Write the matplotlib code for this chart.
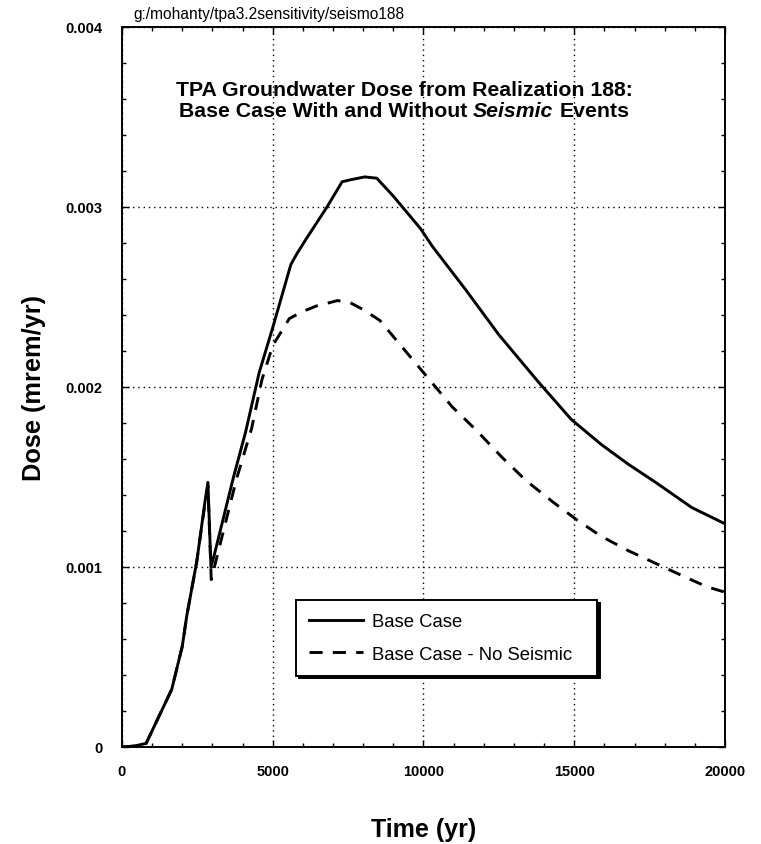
import matplotlib
matplotlib.use("Agg")
import matplotlib.pyplot as plt
from matplotlib.ticker import MultipleLocator, FixedLocator, FixedFormatter

plt.rcParams['font.family'] = ['Liberation Sans', 'DejaVu Sans']

# ---- data ----
base_t = [0, 400, 800, 1650, 2000, 2150, 2480, 2750, 2850, 2950, 3050, 3700, 4100,
          4550, 5000, 5600, 5800, 6100, 6800, 7300, 7550, 8050, 8450, 9000, 9300,
          9900, 10300, 11400, 12500, 13800, 14900, 15900, 16800, 17700, 18900, 20000]
base_d = [0, 0.000005, 0.00002, 0.00032, 0.00056, 0.00073, 0.00103, 0.00136, 0.00147,
          0.00100, 0.00106, 0.00150, 0.00175, 0.00208, 0.00233, 0.00268, 0.00274,
          0.00282, 0.00300, 0.00314, 0.00315, 0.003167, 0.00316, 0.00306, 0.00300,
          0.00288, 0.00278, 0.00254, 0.00229, 0.00203, 0.00182, 0.00168, 0.00157,
          0.00147, 0.00133, 0.00124]

noseis_t = [0, 400, 800, 1650, 2000, 2150, 2480, 2750, 2850, 2960, 3350, 3800, 4300,
            4640, 5000, 5550, 6000, 6450, 7150, 7550, 8000, 8550, 9200, 9550, 9950,
            10950, 11750, 12600, 13400, 14300, 15100, 15900, 16800, 17700, 18600,
            19400, 20000]
noseis_d = [0, 0.000005, 0.00002, 0.00032, 0.00056, 0.00073, 0.00103, 0.00135, 0.00145,
            0.00093, 0.00119, 0.00149, 0.00177, 0.00204, 0.00223, 0.00238, 0.00242,
            0.00245, 0.00248, 0.00247, 0.00243, 0.00237, 0.00224, 0.00217, 0.00209,
            0.00189, 0.00176, 0.00161, 0.00148, 0.00136, 0.00126, 0.00117, 0.00109,
            0.00102, 0.00095, 0.00089, 0.00086]

x_ticks = [0, 5000, 10000, 15000, 20000]
x_labels = ['0', '5000', '10000', '15000', '20000']
y_ticks = [0, 0.001, 0.002, 0.003, 0.004]
y_labels = ['0', '0.001', '0.002', '0.003', '0.004']

series_labels = ['Base Case', 'Base Case - No Seismic']
title_line1 = 'TPA Groundwater Dose from Realization 188:'
title_line2 = [('Base Case With and Without', 'normal'), ('Seismic', 'italic'), ('Events', 'normal')]
source_text = 'g:/mohanty/tpa3.2sensitivity/seismo188'

# ---- figure ----
fig = plt.figure(figsize=(7.61, 8.45), dpi=100)
ax = fig.add_axes([0.1603, 0.1148, 0.7924, 0.8521])

ax.plot(base_t, base_d, color='black', lw=2.1, label=series_labels[0])
ax.plot(noseis_t, noseis_d, color='black', lw=2.1, linestyle=(0, (4.5, 3.5)),
        label=series_labels[1])

ax.set_xlim(0, 20000)
ax.set_ylim(0, 0.004)
ax.xaxis.set_major_locator(FixedLocator(x_ticks))
ax.xaxis.set_major_formatter(FixedFormatter(x_labels))
ax.yaxis.set_major_locator(FixedLocator(y_ticks))
ax.yaxis.set_major_formatter(FixedFormatter(y_labels))
ax.xaxis.set_minor_locator(MultipleLocator(1000))
ax.yaxis.set_minor_locator(MultipleLocator(0.0002))

ax.tick_params(which='both', direction='in', top=True, right=True, width=1.0)
ax.tick_params(which='major', length=5, labelsize=10.5)
ax.tick_params(axis='x', which='major', pad=12)
ax.tick_params(axis='y', which='major', pad=14)
ax.tick_params(which='minor', length=3)
for lab in ax.get_xticklabels() + ax.get_yticklabels():
    lab.set_fontweight('bold')

for s in ax.spines.values():
    s.set_linewidth(1.4)

ax.grid(True, which='major', color='black', linestyle=(0, (1, 2.8)), linewidth=1.0)

ax.set_xlabel('Time (yr)', fontsize=18, fontweight='bold', labelpad=28)
ax.set_ylabel('Dose (mrem/yr)', fontsize=18.3, fontweight='bold', labelpad=14)

leg = ax.legend(loc='upper left', bbox_to_anchor=(0.289, 0.100, 0.499, 0.104),
                mode='expand', borderaxespad=0,
                fancybox=False, edgecolor='black', framealpha=1, fontsize=13.3,
                handlelength=2.9, handletextpad=0.5, labelspacing=0.85,
                borderpad=0.7,
                shadow={'color': 'black', 'alpha': 1.0})
leg.get_frame().set_linewidth(1.4)

# title inside axes
title_fs = 15.3
ax.text(0.468, 0.9135, title_line1, transform=ax.transAxes, ha='center', va='center',
        fontsize=title_fs, fontweight='bold')

fig.canvas.draw()
renderer = fig.canvas.get_renderer()

def text_width(s, style):
    t = fig.text(0, 0, s, fontsize=title_fs, fontweight='bold', style=style)
    w = t.get_window_extent(renderer).width
    t.remove()
    return w

space_w = text_width('a a', 'normal') - text_width('aa', 'normal')
widths = [text_width(s, st) for s, st in title_line2]
total = sum(widths) + space_w * (len(widths) - 1)
cx, cy = ax.transAxes.transform((0.468, 0.884))
x = cx - total / 2
inv = fig.transFigure.inverted()
for (s, st), w in zip(title_line2, widths):
    fx, fy = inv.transform((x, cy))
    fig.text(fx, fy, s, fontsize=title_fs, fontweight='bold', style=st,
             ha='left', va='center')
    x += w + space_w

fig.text(133 / 761, 1 - 15 / 845, source_text, fontsize=11.2, ha='left', va='center')

fig.savefig('out.png', dpi=100)
